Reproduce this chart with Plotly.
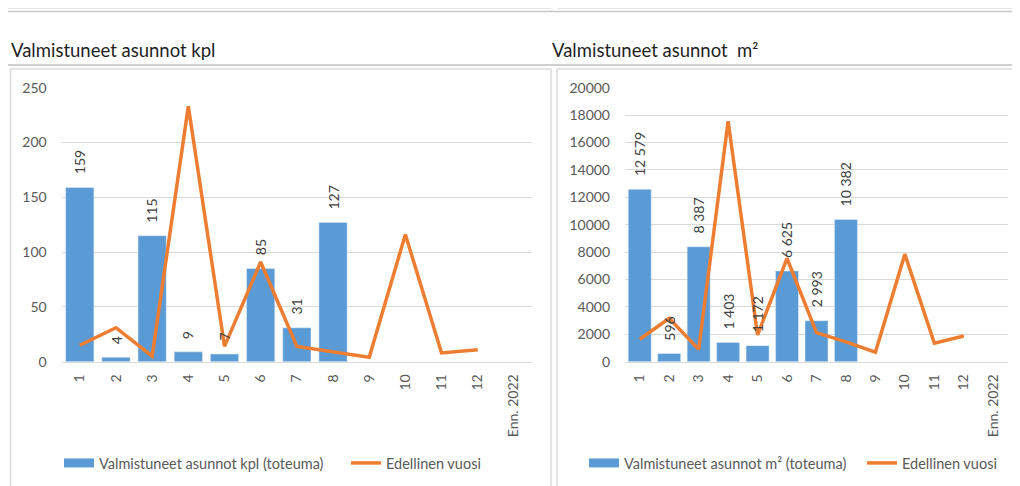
import plotly.graph_objects as go

# ---------------- data ----------------
categories = ["1", "2", "3", "4", "5", "6", "7", "8", "9", "10", "11", "12", "Enn. 2022"]

kpl_actual = [159, 4, 115, 9, 7, 85, 31, 127, None, None, None, None, None]
kpl_prev = [15, 31, 5, 233, 14, 91, 14, 9, 4, 116, 8, 11, None]

m2_actual = [12579, 596, 8387, 1403, 1172, 6625, 2993, 10382, None, None, None, None, None]
m2_prev = [1640, 3170, 900, 17550, 1950, 7550, 2120, 1450, 690, 7850, 1350, 1880, None]

title_left = "Valmistuneet asunnot kpl"
title_right = "Valmistuneet asunnot\u00a0 m²"
legend_bar_left = "Valmistuneet asunnot kpl (toteuma)"
legend_bar_right = "Valmistuneet asunnot m² (toteuma)"
legend_line = "Edellinen vuosi"

# ---------------- styles ----------------
OFF = 8                      # default page margin of the html body
W, H = 1020 - OFF, 486 - OFF
BAR = "#5B9BD5"
LINE = "#ED7D31"
GRID = "#D9D9D9"
TXT = "#595959"
FONT = "Lato, 'Open Sans', sans-serif"


def px(x):
    return (x - OFF) / W


def py(y):
    return 1 - (y - OFF) / H


def fmt(v):
    return f"{v:,}".replace(",", " ")


fig = go.Figure()

for xa, ya, lg, bars, prev, bar_name in (("x", "y", "legend", kpl_actual, kpl_prev, legend_bar_left),
                                         ("x2", "y2", "legend2", m2_actual, m2_prev, legend_bar_right)):
    fig.add_trace(go.Bar(x=categories, y=bars, name=bar_name, marker_color=BAR,
                         xaxis=xa, yaxis=ya, showlegend=False))
    # legend entry with Excel-like wide rectangle key
    fig.add_trace(go.Scatter(x=[None], y=[None], name=bar_name, mode="lines",
                             line=dict(color=BAR, width=9), xaxis=xa, yaxis=ya, legend=lg,
                             hoverinfo="skip"))
    fig.add_trace(go.Scatter(x=categories, y=prev, name=legend_line, mode="lines",
                             line=dict(color=LINE, width=3.5), xaxis=xa, yaxis=ya, legend=lg))

annotations = []
for xa, ya, vals in (("x", "y", kpl_actual), ("x2", "y2", m2_actual)):
    for i, v in enumerate(vals):
        if v is None:
            continue
        annotations.append(dict(x=i, y=v, xref=xa, yref=ya, text=fmt(v), textangle=-90,
                                showarrow=False, yanchor="bottom", xanchor="center", yshift=11,
                                font=dict(size=14, color="#404040", family=FONT)))

annotations.append(dict(x=px(9), y=py(50), xref="paper", yref="paper", text=title_left,
                        showarrow=False, xanchor="left", yanchor="middle",
                        font=dict(size=18.5, color="#1F1F1F", family=FONT)))
annotations.append(dict(x=px(550), y=py(50), xref="paper", yref="paper", text=title_right,
                        showarrow=False, xanchor="left", yanchor="middle",
                        font=dict(size=18.5, color="#1F1F1F", family=FONT)))

shapes = [
    dict(type="line", xref="paper", yref="paper", x0=px(8), x1=px(551), y0=py(8.5), y1=py(8.5),
         line=dict(color="#E6E6E6", width=1)),
    dict(type="line", xref="paper", yref="paper", x0=px(557), x1=1, y0=py(8.5), y1=py(8.5),
         line=dict(color="#E6E6E6", width=1)),
    dict(type="line", xref="paper", yref="paper", x0=px(8), x1=1, y0=py(11.5), y1=py(11.5),
         line=dict(color="#C8C8C8", width=1.5)),
    dict(type="line", xref="paper", yref="paper", x0=0, x1=1, y0=py(65), y1=py(65),
         line=dict(color="#C0C0C0", width=1.5)),
    dict(type="rect", xref="paper", yref="paper", x0=px(10.5), x1=px(551), y0=py(69), y1=py(495),
         line=dict(color="#DCDCDC", width=1.5)),
    dict(type="rect", xref="paper", yref="paper", x0=px(557), x1=px(1035), y0=py(69), y1=py(495),
         line=dict(color="#DCDCDC", width=1.5)),
]

axis_common = dict(showgrid=False, showline=True, linecolor=GRID, linewidth=1,
                   tickangle=-90, tickfont=dict(size=14, color=TXT, family=FONT),
                   ticks="", type="category", fixedrange=True, ticklabelstandoff=6)
yaxis_common = dict(showgrid=True, gridcolor=GRID, gridwidth=1, zeroline=False, showline=False,
                    tickfont=dict(size=14, color=TXT, family=FONT), ticks="", ticklabelstandoff=14,
                    fixedrange=True)

fig.update_layout(
    width=W, height=H, margin=dict(l=0, r=0, t=0, b=0, autoexpand=False),
    paper_bgcolor="white", plot_bgcolor="white",
    font=dict(family=FONT, color=TXT),
    bargap=0.22,
    xaxis=dict(domain=[px(61.7), px(532)], anchor="y", **axis_common),
    yaxis=dict(domain=[py(361.7), py(87.7)], anchor="x", range=[0, 250], dtick=50, **yaxis_common),
    xaxis2=dict(domain=[px(625), px(1008)], anchor="y2", **axis_common),
    yaxis2=dict(domain=[py(361.7), py(87.7)], anchor="x2", range=[0, 20000], dtick=2000,
                tickformat="d", **yaxis_common),
    legend=dict(orientation="h", x=px(59), y=py(463), xanchor="left", yanchor="middle",
                font=dict(size=14.5, color=TXT, family=FONT), bgcolor="rgba(0,0,0,0)",
                itemwidth=30, tracegroupgap=0, entrywidth=242, entrywidthmode="pixels"),
    legend2=dict(orientation="h", x=px(584), y=py(463), xanchor="left", yanchor="middle",
                 font=dict(size=14.5, color=TXT, family=FONT), bgcolor="rgba(0,0,0,0)",
                 itemwidth=30, tracegroupgap=0, entrywidth=233, entrywidthmode="pixels"),
    annotations=annotations,
    shapes=shapes,
    showlegend=True,
)

fig.write_html("out.html", config={"displayModeBar": False})
